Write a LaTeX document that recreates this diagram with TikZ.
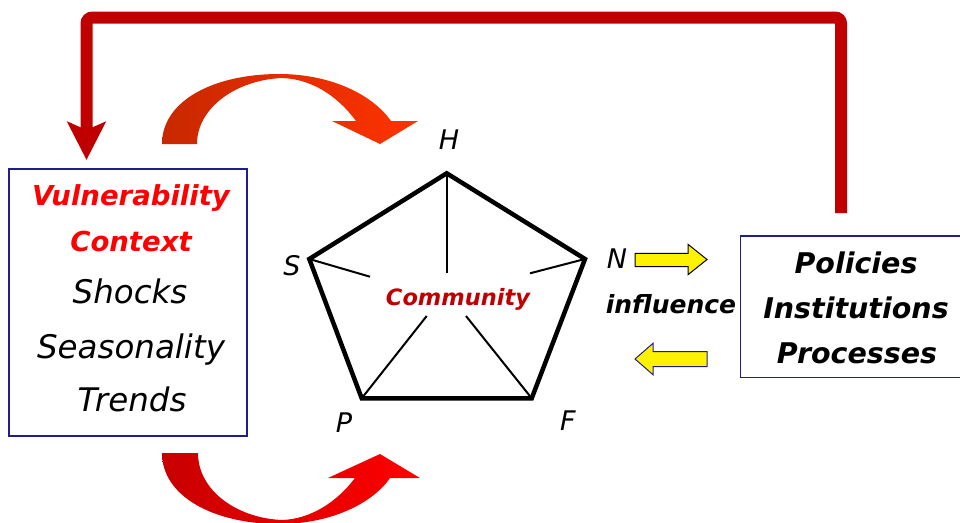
\documentclass[tikz,border=0pt]{standalone}
\usepackage{fontspec}
\setmainfont{DejaVu Sans}
\usepackage{tikz}
\usetikzlibrary{arrows.meta}
\definecolor{fbred}{RGB}{192,0,0}
\definecolor{boxblue}{RGB}{30,30,140}
\definecolor{arcdark}{RGB}{200,40,0}
\definecolor{arclight}{RGB}{255,51,0}
\definecolor{arcdeep}{RGB}{200,0,0}

\begin{document}
\begin{tikzpicture}[x=1pt,y=-1pt,
		framebox/.style={draw=boxblue,line width=1.3pt,inner sep=0pt},
		redhead/.style={text=red,font=\fontsize{27.5}{30}\selectfont\bfseries\itshape,anchor=base},
		plainline/.style={font=\fontsize{32.5}{35}\selectfont\itshape,anchor=base},
		piptext/.style={font=\fontsize{28.5}{31}\selectfont\bfseries\itshape,anchor=base},
		corner/.style={font=\fontsize{27}{30}\selectfont\itshape,anchor=base},
		spoke/.style={line width=2pt},
		yarrow/.style={fill=yellow,line width=1pt,line join=miter}]
		\clip (0,0) rectangle (960,522);
		
		% feedback line from the processes back to the vulnerability context
		\coordinate (fbstart) at (841,213);
		\coordinate (fbend) at (86.5,160);
		\draw[fbred,line width=12pt,rounded corners=6pt,
		-{Stealth[length=38pt,width=38pt,inset=8pt]}]
		(fbstart) -- (841,17.5) -- (86.5,17.5) -- (fbend);
		
		% vulnerability context box
		\node[framebox,minimum width=238pt,minimum height=267pt] (vcbox) at (128,302.5) {};
		\node[redhead] (vulnerability) at (131,205) {Vulnerability};
		\node[redhead] (context) at (131,251.7) {Context};
		\node[plainline] (shocks) at (130,303.3) {Shocks};
		\node[plainline] (seasonality) at (131,358.3) {Seasonality};
		\node[plainline] (trends) at (132,411.7) {Trends};
		
		% policies, institutions, processes (box runs off the right edge)
		\node[framebox,minimum width=250pt,minimum height=141.3pt] (pipbox) at (865.7,306.7) {};
		\node[piptext] (policies) at (856,273.3) {Policies};
		\node[piptext] (institutions) at (856,318.3) {Institutions};
		\node[piptext] (processes) at (857,363.3) {Processes};
		
		% curved arrows round the left box
		\shade[left color=arcdark,right color=arclight]
		(162,144) .. controls (162,100) and (215,74) .. (279,74)
		.. controls (330,74) and (372,94) .. (391,121)
		-- (418,121) -- (380,144) -- (332,121) -- (356,121)
		.. controls (336,94) and (310,79) .. (282,78)
		.. controls (236,80) and (197,108) .. (197,144) -- cycle;
		\shade[left color=arcdeep,right color=red]
		(162,453) .. controls (162,497) and (215,524) .. (279,524)
		.. controls (330,524) and (372,504) .. (390,478)
		-- (420,478) -- (380,454) -- (328,478) -- (355,478)
		.. controls (336,503) and (310,519) .. (282,520)
		.. controls (236,518) and (198,490) .. (198,453) -- cycle;
		
		% the pentagon
		\coordinate (vH) at (446.7,173.3);
		\coordinate (vN) at (585,259);
		\coordinate (vF) at (531.7,398.3);
		\coordinate (vP) at (361.7,398.3);
		\coordinate (vS) at (309.3,259);
		\draw[line width=4.5pt,line join=miter] (vH) -- (vN) -- (vF) -- (vP) -- (vS) -- cycle;
		
		% spokes stop short of the label
		\coordinate (cH) at (446.7,273.3);
		\coordinate (cN) at (530,273.3);
		\coordinate (cF) at (466,316);
		\coordinate (cP) at (426.7,316);
		\coordinate (cS) at (370,276.7);
		\foreach \v in {H,N,F,P,S}
		\draw[spoke] (v\v) -- (c\v);
		\node[text=fbred,font=\fontsize{22.5}{25}\selectfont\bfseries\itshape,anchor=base]
		(community) at (458,305) {Community};
		
		% capital labels
		\node[corner] (labH) at (449,149.3) {H};
		\node[corner] (labS) at (292,275) {S};
		\node[corner] (labN) at (617,268) {N};
		\node[corner] (labP) at (344,432) {P};
		\node[corner] (labF) at (568,430) {F};
		
		% influence and the two block arrows
		\node[font=\fontsize{25}{27}\selectfont\bfseries\itshape,anchor=base]
		(influence) at (671,313.3) {influence};
		\draw[yarrow,draw=black] (635,253.3) -- (688,253.3) -- (688,244.3) -- (707,259.5)
		-- (688,274.7) -- (688,266.7) -- (635,266.7) -- cycle;
		\draw[yarrow,draw=boxblue] (707,351.7) -- (653,351.7) -- (653,343.3) -- (635,359)
		-- (653,374.7) -- (653,366.7) -- (707,366.7) -- cycle;
	\end{tikzpicture}
\end{document}
